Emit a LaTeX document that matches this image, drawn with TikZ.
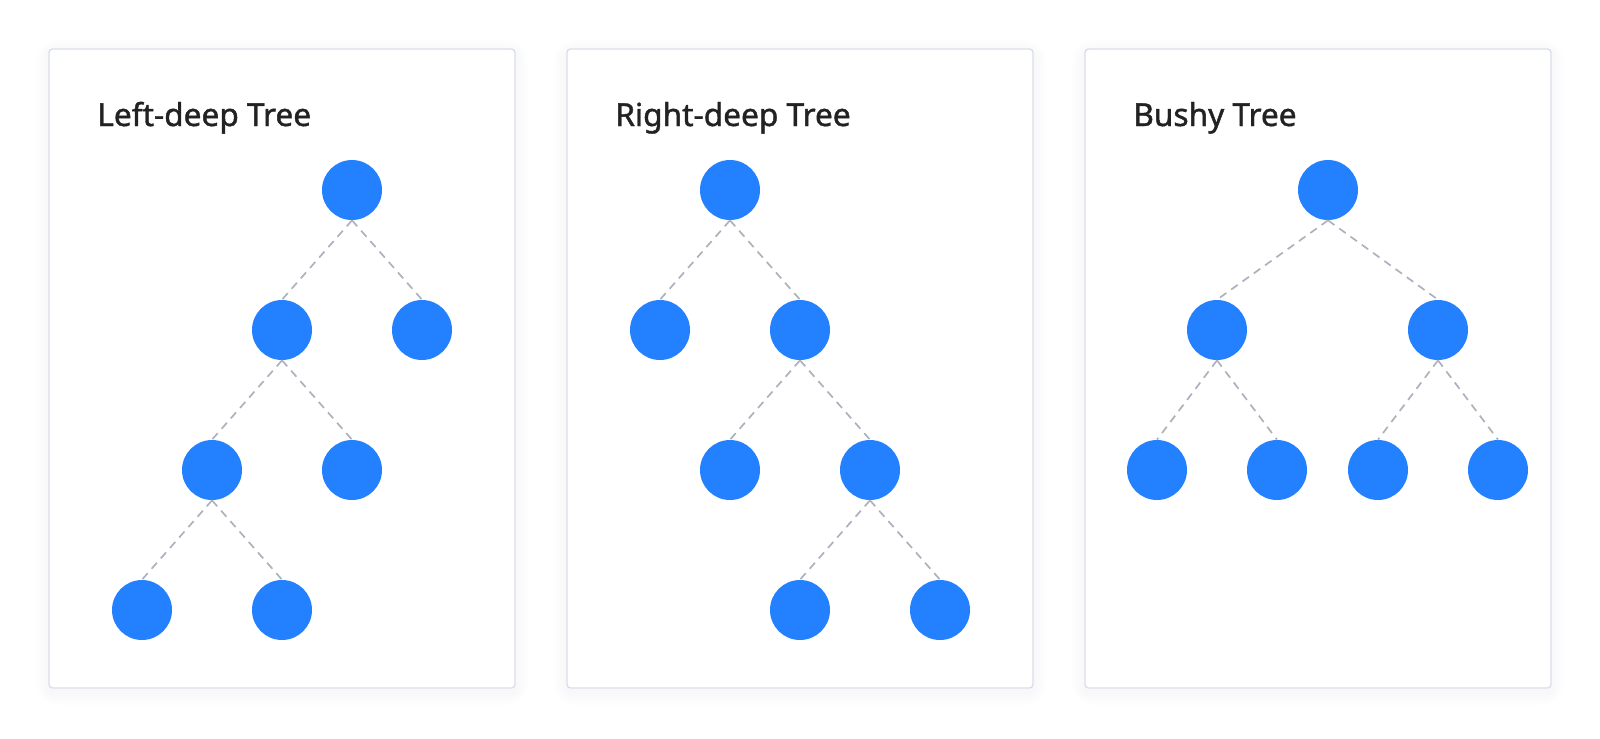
\documentclass[tikz,border=0pt]{standalone}
\usepackage{fontspec}
\setmainfont{Noto Sans}
\newfontfamily\titlefont[FakeBold=1.3]{Noto Sans}
\usetikzlibrary{positioning}
\definecolor{nodeblue}{RGB}{35,128,255}
\definecolor{edgegray}{RGB}{172,177,187}
\definecolor{panelgray}{RGB}{218,222,232}
\definecolor{shadowblue}{RGB}{120,130,170}
\definecolor{titlegray}{RGB}{34,34,34}

\begin{document}
\begin{tikzpicture}[x=0.02cm,y=-0.02cm]
	\tikzstyle{place}=[circle, fill=nodeblue, minimum size=1.2cm, inner sep=0pt]
	\tikzstyle{link}=[draw=edgegray, line width=0.95pt, dash pattern=on 4.5pt off 3.4pt]
	\tikzstyle{panel}=[draw=panelgray, line width=0.8pt, fill=white, rounded corners=2pt]
	\tikzstyle{title}=[anchor=base west, text=titlegray, inner sep=0pt, font=\titlefont\fontsize{18}{22}\selectfont]

	\useasboundingbox (0,0) rectangle (1600,738);

	% panels with a soft shadow
	\foreach \x in {49,567,1085} {
		\foreach \s in {2,4,...,14}
			\fill[shadowblue, opacity=0.006, rounded corners=\s pt] (\x-\s,49-\s+4) rectangle (\x+466+\s,688+\s+4);
		\draw[panel] (\x,49) rectangle (\x+466,688);
	}

	% left-deep
	\node at (97,126) [title] (t1) {Left-deep Tree};
	\node at (352,190) [place] (a0) {};
	\node at (282,330) [place] (a1) {};
	\node at (422,330) [place] (a2) {};
	\node at (212,470) [place] (a3) {};
	\node at (352,470) [place] (a4) {};
	\node at (142,610) [place] (a5) {};
	\node at (282,610) [place] (a6) {};

	\draw [link] (a0.south) -- (a1.north);
	\draw [link] (a0.south) -- (a2.north);
	\draw [link] (a1.south) -- (a3.north);
	\draw [link] (a1.south) -- (a4.north);
	\draw [link] (a3.south) -- (a5.north);
	\draw [link] (a3.south) -- (a6.north);

	% right-deep
	\node at (615,126) [title] (t2) {Right-deep Tree};
	\node at (730,190) [place] (b0) {};
	\node at (660,330) [place] (b1) {};
	\node at (800,330) [place] (b2) {};
	\node at (730,470) [place] (b3) {};
	\node at (870,470) [place] (b4) {};
	\node at (800,610) [place] (b5) {};
	\node at (940,610) [place] (b6) {};

	\draw [link] (b0.south) -- (b1.north);
	\draw [link] (b0.south) -- (b2.north);
	\draw [link] (b2.south) -- (b3.north);
	\draw [link] (b2.south) -- (b4.north);
	\draw [link] (b4.south) -- (b5.north);
	\draw [link] (b4.south) -- (b6.north);

	% bushy
	\node at (1133,126) [title] (t3) {Bushy Tree};
	\node at (1328,190) [place] (c0) {};
	\node at (1217,330) [place] (c1) {};
	\node at (1438,330) [place] (c2) {};
	\node at (1157,470) [place] (c3) {};
	\node at (1277,470) [place] (c4) {};
	\node at (1378,470) [place] (c5) {};
	\node at (1498,470) [place] (c6) {};

	\draw [link] (c0.south) -- (c1.north);
	\draw [link] (c0.south) -- (c2.north);
	\draw [link] (c1.south) -- (c3.north);
	\draw [link] (c1.south) -- (c4.north);
	\draw [link] (c2.south) -- (c5.north);
	\draw [link] (c2.south) -- (c6.north);
\end{tikzpicture}
\end{document}
